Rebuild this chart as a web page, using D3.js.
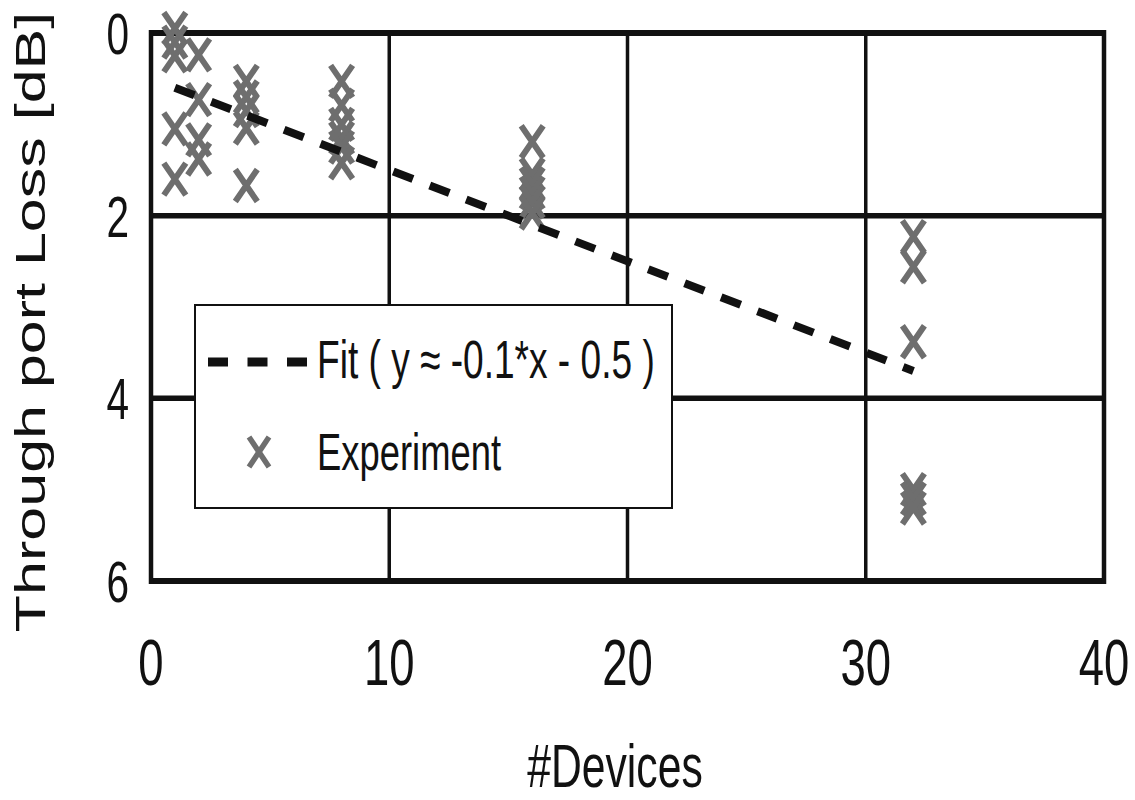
<!DOCTYPE html>
<html><head><meta charset="utf-8">
<script src="https://cdn.jsdelivr.net/npm/d3@7/dist/d3.min.js"></script>
<style>body{margin:0;background:#fff}svg{display:block}text{font-family:"Liberation Sans",Arial,sans-serif;fill:#111}</style>
</head><body><svg id="c" width="1135" height="800"></svg>
<script>
const xTicks = [0, 10, 20, 30, 40];
const yTicks = [0, 2, 4, 6];
const expX = [1,1,1,1,1, 2,2,2,2, 4,4,4,4,4, 8,8,8,8,8,8, 16,16,16,16,16,16, 32,32,32,32,32,32];
const expY = [-0.05,0.1,0.25,1.05,1.6, 0.24,0.73,1.17,1.38, 0.53,0.7,0.85,1.04,1.67, 0.53,0.79,1.0,1.15,1.25,1.42, 1.19,1.55,1.65,1.75,1.85,1.97, 2.23,2.56,3.38,5.0,5.1,5.2];
const fitX = [1, 32];
const fitSlope = 0.1, fitIntercept = 0.5;
const xLabel = "#Devices";
const yLabel = "Through port Loss [dB]";
const fitLabel = "Fit ( y \u2248 -0.1*x - 0.5 )";
const expLabel = "Experiment";

const svg = d3.select("#c");
const x = d3.scaleLinear().domain([0, 40]).range([151, 1104]);
const y = d3.scaleLinear().domain([0, 6]).range([33, 581]);
const SX = 0.7;

// grid
const g = svg.append("g");
g.selectAll("line.v").data([10,20,30]).join("line")
  .attr("x1", d => x(d)).attr("x2", d => x(d)).attr("y1", y(0)).attr("y2", y(6))
  .attr("stroke", "#111").attr("stroke-width", 3.5);
g.selectAll("line.h").data([2,4]).join("line")
  .attr("x1", x(0)).attr("x2", x(40)).attr("y1", d => y(d)).attr("y2", d => y(d))
  .attr("stroke", "#111").attr("stroke-width", 5.5);
// frame
g.append("line").attr("x1", x(0)).attr("x2", x(40)).attr("y1", y(0)).attr("y2", y(0)).attr("stroke", "#111").attr("stroke-width", 6);
g.append("line").attr("x1", x(0)).attr("x2", x(40)).attr("y1", y(6)).attr("y2", y(6)).attr("stroke", "#111").attr("stroke-width", 6);
g.append("line").attr("x1", x(0)).attr("x2", x(0)).attr("y1", y(0)-3).attr("y2", y(6)+3).attr("stroke", "#111").attr("stroke-width", 4.5);
g.append("line").attr("x1", x(40)).attr("x2", x(40)).attr("y1", y(0)-3).attr("y2", y(6)+3).attr("stroke", "#111").attr("stroke-width", 4.5);

// tick labels
svg.selectAll("text.xt").data(xTicks).join("text")
  .attr("text-anchor", "middle")
  .attr("transform", d => `translate(${x(d)},685) scale(${SX},1)`)
  .attr("font-size", 65).text(d => d);
svg.selectAll("text.yt").data(yTicks).join("text")
  .attr("text-anchor", "end")
  .attr("transform", d => `translate(129,${y(d)+21}) scale(${SX},1)`)
  .attr("font-size", 58).text(d => d);
// axis titles
svg.append("text").attr("text-anchor", "middle")
  .attr("transform", `translate(615,787) scale(${SX},1)`)
  .attr("font-size", 61).text(xLabel);
svg.append("text").attr("text-anchor", "middle")
  .attr("transform", `translate(45,322) scale(${SX},1) rotate(-90)`)
  .attr("font-size", 61).text(yLabel);

// markers
const xPath = "M-11,-16L11,16M-11,16L11,-16";
const pts = expX.map((v, i) => ({x: v, y: expY[i]}));
svg.append("g").selectAll("path").data(pts).join("path")
  .attr("transform", d => `translate(${x(d.x)},${y(d.y)})`)
  .attr("d", xPath).attr("fill", "none").attr("stroke", "#6e6e6e").attr("stroke-width", 6);

// fit line
const line = d3.line().x(d => x(d)).y(d => y(fitSlope * d + fitIntercept));
svg.append("path").attr("d", line(fitX)).attr("fill", "none")
  .attr("stroke", "#111").attr("stroke-width", 8).attr("stroke-dasharray", "21,18");

// legend
const lg = svg.append("g");
lg.append("rect").attr("x", 195).attr("y", 305).attr("width", 477).attr("height", 203)
  .attr("fill", "#fff").attr("stroke", "#111").attr("stroke-width", 2);
lg.append("line").attr("x1", 208).attr("x2", 307).attr("y1", 362).attr("y2", 362)
  .attr("stroke", "#111").attr("stroke-width", 9).attr("stroke-dasharray", "20,19.5");
lg.append("text").attr("transform", `translate(317,378) scale(${SX},1)`).attr("font-size", 53).text(fitLabel);
lg.append("path").attr("transform", "translate(259,452)").attr("d", "M-10,-15L10,15M-10,15L10,-15")
  .attr("fill", "none").attr("stroke", "#6e6e6e").attr("stroke-width", 5.5);
lg.append("text").attr("transform", `translate(317,470) scale(${SX},1)`).attr("font-size", 52).text(expLabel);
</script></body></html>
